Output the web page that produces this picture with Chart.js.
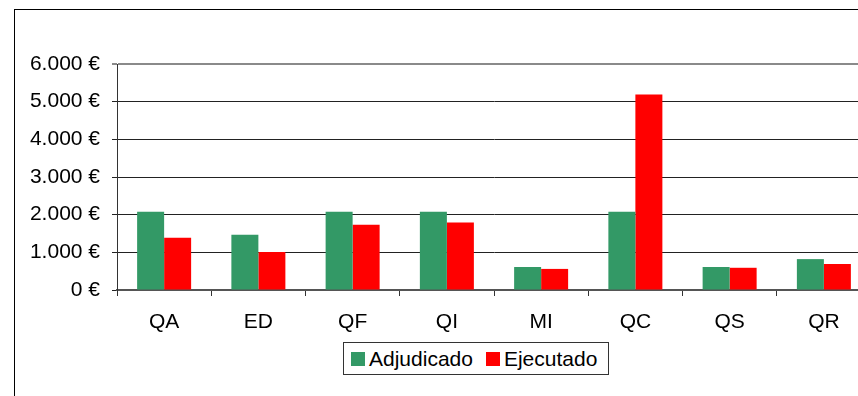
<!DOCTYPE html>
<html lang="es">
<head>
<meta charset="UTF-8">
<title>Adjudicado vs Ejecutado</title>
<script src="https://cdn.jsdelivr.net/npm/chart.js"></script>
<style>
  * { margin: 0; padding: 0; box-sizing: border-box; }
  html, body { width: 858px; height: 396px; overflow: hidden; background: #fff; }
  body { position: relative; font-family: 'Liberation Sans', Arial, sans-serif; }
  .frame { position: absolute; left: 14px; top: 9px; width: 900px; height: 420px; border: 1px solid #000; }
  .plot { position: absolute; left: 0; top: 0; width: 900px; height: 396px; }
  .legend { position: absolute; left: 343px; top: 342px; width: 266px; height: 33px; border: 1px solid #333;
            display: flex; align-items: center; padding-left: 7px; font-size: 21px; color: #000; background: #fff; }
  .legend .item { display: flex; align-items: center; margin-right: 13px; }
  .legend .swatch { width: 14px; height: 14px; margin-right: 4px; }
</style>
</head>
<body>
<div class="frame"></div>
<div class="plot"><canvas id="chart" width="900" height="396"></canvas></div>
<div class="legend" id="legend"></div>

<script>
const categories = ['QA', 'ED', 'QF', 'QI', 'MI', 'QC', 'QS', 'QR'];
const adjudicado = [2080, 1470, 2080, 2080, 610, 2080, 610, 820];
const ejecutado = [1390, 1010, 1730, 1790, 560, 5190, 590, 690];
const yTickValues = [0, 1000, 2000, 3000, 4000, 5000, 6000];
const yTickLabels = ['0 €', '1.000 €', '2.000 €', '3.000 €', '4.000 €', '5.000 €', '6.000 €'];

const seriesNames = ['Adjudicado', 'Ejecutado'];
const seriesColors = ['#339966', '#ff0000'];
const font = { family: "'Liberation Sans', Arial, sans-serif", size: 21 };

new Chart(document.getElementById('chart'), {
  type: 'bar',
  data: {
    labels: categories,
    datasets: [
      { label: seriesNames[0], data: adjudicado, backgroundColor: seriesColors[0] },
      { label: seriesNames[1], data: ejecutado, backgroundColor: seriesColors[1] }
    ]
  },
  options: {
    responsive: false,
    animation: false,
    events: [],
    categoryPercentage: 0.573,
    barPercentage: 1,
    layout: { padding: { top: 64, right: 29, bottom: 0, left: 0 } },
    plugins: { legend: { display: false }, tooltip: { enabled: false } },
    scales: {
      x: {
        offset: true,
        afterFit: (scale) => { scale.height = 106; },
        grid: { offset: true, drawOnChartArea: false, drawTicks: true, tickLength: 6, color: '#333', lineWidth: 1 },
        border: { color: '#555', width: 2 },
        ticks: { color: '#000', font: font, padding: 14, maxRotation: 0 }
      },
      y: {
        min: 0,
        max: 6000,
        afterFit: (scale) => { scale.width = 117; },
        afterBuildTicks: (scale) => { scale.ticks = yTickValues.map(v => ({ value: v })); },
        grid: {
          color: (ctx) => ctx.tick && ctx.tick.value === 6000 ? '#8a8a8a' : '#222',
          lineWidth: (ctx) => ctx.tick && ctx.tick.value === 6000 ? 2 : 1,
          tickLength: 5,
          drawTicks: true
        },
        border: { color: '#333', width: 1 },
        ticks: {
          color: '#000',
          font: font,
          padding: 12,
          callback: (value) => yTickLabels[yTickValues.indexOf(value)]
        }
      }
    }
  }
});

// legend box under the axis
const legend = document.getElementById('legend');
seriesNames.forEach((name, i) => {
  const item = document.createElement('div');
  item.className = 'item';
  item.innerHTML = `<span class="swatch" style="background:${seriesColors[i]}"></span><span>${name}</span>`;
  legend.appendChild(item);
});
</script>
</body>
</html>
